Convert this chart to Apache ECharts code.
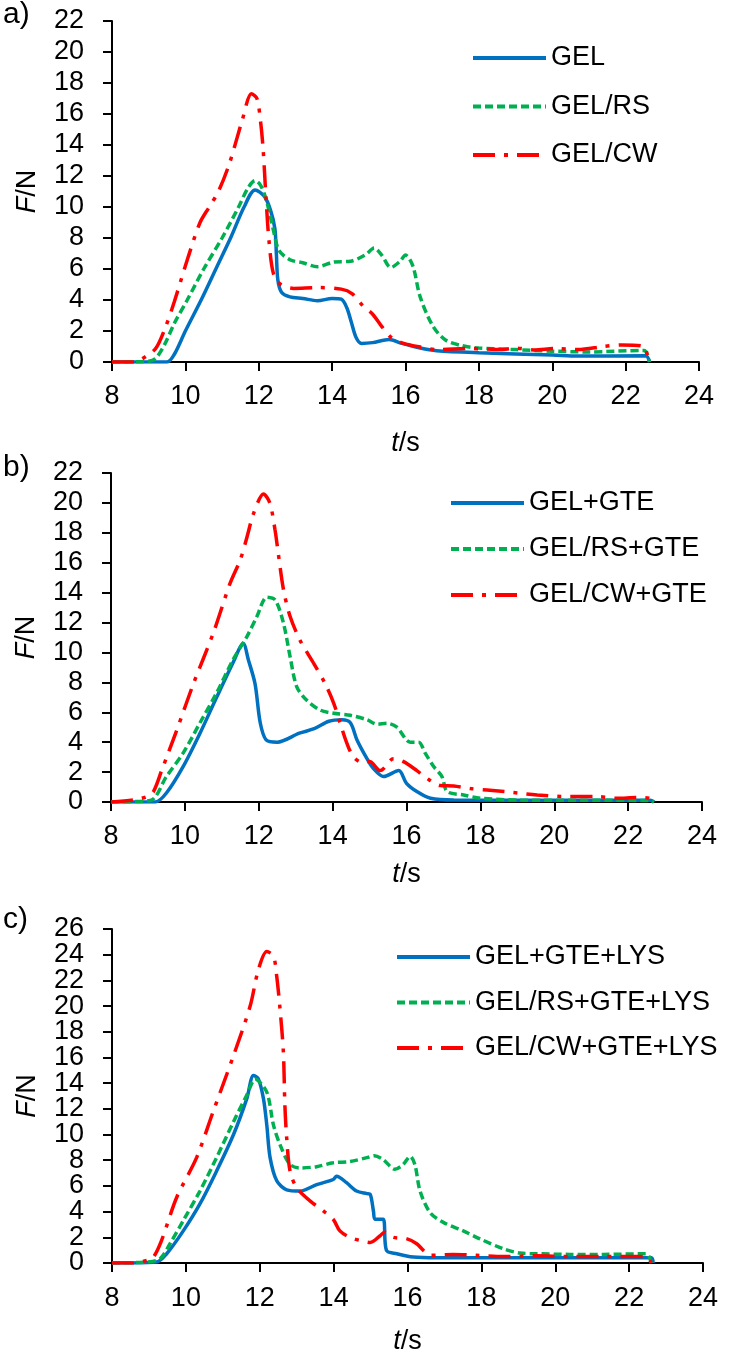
<!DOCTYPE html>
<html>
<head>
<meta charset="utf-8">
<script src="https://cdn.jsdelivr.net/npm/echarts@6/dist/echarts.min.js"></script>
<style>
html,body{margin:0;padding:0;background:#fff;}
#c{width:754px;height:1356px;}
</style>
</head>
<body>
<div id="c"></div>
<script>
// ---------- tick settings ----------
const xTicks = {min: 8, max: 24, interval: 2};
const yMaxA = 22, yMaxB = 22, yMaxC = 26;

// ---------- series names ----------
const namesA = ['GEL', 'GEL/RS', 'GEL/CW'];
const namesB = ['GEL+GTE', 'GEL/RS+GTE', 'GEL/CW+GTE'];
const namesC = ['GEL+GTE+LYS', 'GEL/RS+GTE+LYS', 'GEL/CW+GTE+LYS'];

// ---------- panel a: [t (s), F (N)] ----------
const gelA = [[8,0],[9.5,0],[9.7,0.5],[10.0,2.0],[10.45,4.1],[10.85,6.1],[11.25,8.1],[11.6,10.0],[11.9,11.1],[12.15,10.7],[12.32,9.8],[12.44,8.6],[12.48,7.0],[12.52,5.3],[12.62,4.5],[12.85,4.2],[13.2,4.1],[13.6,3.95],[14.0,4.1],[14.25,4.05],[14.4,3.5],[14.52,2.6],[14.65,1.6],[14.8,1.2],[15.1,1.25],[15.55,1.45],[15.9,1.2],[16.4,0.9],[16.85,0.73],[18.0,0.6],[20.0,0.45],[20.7,0.38],[22.55,0.4],[22.65,0]];
const rsA = [[8,0],[9.0,0.05],[9.2,0.25],[9.45,1.2],[9.7,2.5],[10.05,4.0],[10.5,6.0],[11.0,8.0],[11.45,10.0],[11.7,11.2],[11.9,11.7],[12.05,11.4],[12.2,10.5],[12.4,8.5],[12.55,7.2],[12.85,6.6],[13.2,6.4],[13.6,6.15],[14.05,6.45],[14.5,6.5],[14.9,6.9],[15.15,7.35],[15.35,6.9],[15.6,6.1],[15.85,6.5],[16.0,6.9],[16.2,6.2],[16.4,4.2],[16.75,2.3],[17.1,1.4],[17.55,1.05],[18.0,0.9],[19.0,0.8],[20.0,0.7],[21.0,0.65],[22.5,0.75],[22.65,0]];
const cwA = [[8,0],[8.6,0],[8.95,0.4],[9.2,0.9],[9.45,2.2],[9.7,3.9],[10.08,6.8],[10.4,9.0],[10.65,10.0],[10.9,11.0],[11.2,12.8],[11.55,15.6],[11.8,17.3],[11.95,17.0],[12.05,15.5],[12.12,13.7],[12.2,10.5],[12.28,7.8],[12.4,5.7],[12.6,5.0],[12.95,4.75],[13.6,4.8],[14.25,4.7],[14.55,4.4],[14.85,3.6],[15.1,3.1],[15.35,2.3],[15.6,1.6],[15.95,1.2],[16.4,0.97],[16.85,0.8],[17.75,0.87],[18.65,0.8],[19.0,0.9],[19.5,0.78],[20.1,0.87],[20.7,0.8],[21.4,1.0],[21.9,1.1],[22.5,1.0],[22.6,0]];

// ---------- panel b ----------
const gelB = [[8,0],[9.2,0],[9.5,0.6],[9.96,2.4],[10.41,4.6],[10.86,7.0],[11.3,9.3],[11.58,10.6],[11.72,9.5],[11.9,7.9],[12.04,5.3],[12.2,4.15],[12.5,4.0],[13.1,4.6],[13.5,4.9],[13.9,5.4],[14.25,5.5],[14.48,5.3],[14.66,4.15],[14.93,2.9],[15.1,2.25],[15.38,1.7],[15.79,2.1],[16.0,1.25],[16.28,0.7],[16.65,0.25],[17.28,0.13],[20.0,0.12],[22.6,0.12],[22.7,0]];
const rsB = [[8,0],[9.06,0.1],[9.5,1.7],[9.96,3.3],[10.41,5.3],[10.86,7.3],[11.3,9.5],[11.68,11.06],[11.95,12.4],[12.22,13.7],[12.45,13.5],[12.67,11.95],[12.85,9.7],[13.03,7.7],[13.3,6.8],[13.66,6.15],[14.03,5.93],[14.48,5.8],[14.93,5.5],[15.2,5.2],[15.47,5.26],[15.74,5.0],[16.1,4.0],[16.33,4.0],[16.51,3.25],[16.74,2.36],[16.96,1.7],[17.1,0.7],[17.55,0.47],[18.0,0.25],[19.1,0.13],[22.6,0.1],[22.7,0]];
const cwB = [[8,0],[8.6,0.13],[8.97,0.36],[9.15,0.7],[9.37,2.1],[9.78,4.8],[10.23,7.9],[10.77,11.3],[11.22,14.6],[11.5,16.2],[11.68,17.7],[11.86,19.3],[12.13,20.6],[12.3,20.0],[12.44,18.2],[12.53,16.6],[12.67,14.2],[12.85,12.4],[13.12,10.8],[13.48,9.3],[13.8,7.9],[14.03,6.6],[14.2,5.3],[14.39,3.9],[14.57,3.0],[14.84,2.6],[15.0,2.7],[15.29,2.1],[15.65,2.9],[15.92,2.7],[16.28,2.1],[16.6,1.5],[16.92,1.1],[17.28,1.07],[17.73,0.9],[18.18,0.8],[18.64,0.7],[19.54,0.47],[20.44,0.36],[21.16,0.36],[21.7,0.25],[22.24,0.3],[22.56,0.25],[22.65,0]];

// ---------- panel c ----------
const gelC = [[8,0],[9.21,0.08],[9.48,0.72],[9.93,2.5],[10.38,4.6],[10.83,7.15],[11.29,10.0],[11.65,12.8],[11.83,14.6],[11.96,14.35],[12.1,12.8],[12.19,10.75],[12.28,8.2],[12.46,6.4],[12.73,5.7],[13.09,5.6],[13.54,6.1],[13.99,6.5],[14.08,6.76],[14.35,6.25],[14.62,5.6],[14.9,5.4],[14.99,5.35],[15.08,4.0],[15.12,3.4],[15.34,3.4],[15.43,0.98],[15.71,0.72],[16.16,0.46],[16.79,0.4],[22.6,0.4],[22.65,0]];
const rsC = [[8,0],[8.94,0.08],[9.3,0.33],[9.57,1.5],[9.93,3.3],[10.38,5.6],[10.83,8.2],[11.29,11.0],[11.65,13.07],[11.88,14.3],[12.19,13.3],[12.37,10.75],[12.55,9.2],[12.82,7.66],[13.09,7.4],[13.54,7.5],[13.99,7.8],[14.44,7.9],[14.9,8.2],[15.1,8.35],[15.34,8.05],[15.66,7.3],[15.88,7.66],[16.07,8.3],[16.2,7.66],[16.34,5.6],[16.61,3.93],[16.97,3.16],[17.51,2.5],[17.96,1.88],[18.6,1.1],[19.05,0.77],[19.5,0.72],[20.4,0.67],[21.3,0.67],[22.47,0.72],[22.6,0]];
const cwC = [[8,0],[8.58,0],[8.94,0.2],[9.12,0.46],[9.34,1.75],[9.75,5.1],[10.29,8.2],[10.74,11.8],[11.29,16.15],[11.74,20.0],[11.96,22.8],[12.19,24.25],[12.37,23.9],[12.46,22.3],[12.55,19.75],[12.64,16.4],[12.68,12.3],[12.73,9.7],[12.82,7.15],[13.0,5.86],[13.36,4.84],[13.72,4.06],[13.99,3.4],[14.17,2.5],[14.44,2.0],[14.72,1.75],[14.99,1.6],[15.25,2.1],[15.38,2.4],[15.61,2.0],[15.97,1.9],[16.25,1.5],[16.43,0.98],[16.61,0.6],[17.24,0.67],[17.87,0.6],[18.6,0.5],[19.5,0.56],[20.4,0.5],[21.3,0.5],[22.47,0.5],[22.6,0]];

// ---------- styling ----------
const FONT = "'Liberation Sans', Arial, sans-serif";
const FS = 27;
const colors = ['#0070C0', '#00B050', '#FF0000'];
const dashes = ['solid', [8, 4], [22, 9, 4, 9]];

const grids = [
  {left: 112, top: 21, width: 587, height: 341},
  {left: 111, top: 473, width: 591, height: 329},
  {left: 112, top: 929, width: 591, height: 337}
];
const xNameGaps = [68, 59, 65];
const labelMargins = [21, 21, 22];
const yMaxes = [yMaxA, yMaxB, yMaxC];

function mkX(i) {
  return {
    type: 'value', gridIndex: i, min: xTicks.min, max: xTicks.max, interval: xTicks.interval,
    name: '{i|t}/s', nameLocation: 'middle', nameGap: xNameGaps[i],
    nameTextStyle: {fontFamily: FONT, fontSize: FS, color: '#000', rich: {i: {fontStyle: 'italic', fontFamily: FONT, fontSize: FS, color: '#000'}}},
    axisLine: {lineStyle: {color: '#000', width: 2}},
    axisTick: {show: true, inside: false, length: 9, lineStyle: {color: '#000', width: 2}},
    axisLabel: {fontFamily: FONT, fontSize: FS, color: '#000', margin: labelMargins[i], showMinLabel: true, showMaxLabel: true, hideOverlap: false},
    splitLine: {show: false}
  };
}
// labelFilter: null = all labels; 0 / 2 = only labels whose value % 4 equals that
function mkY(i, labelFilter, primary) {
  const ax = {
    type: 'value', gridIndex: i, position: 'left', offset: 0,
    min: 0, max: yMaxes[i], interval: 2,
    axisLine: {show: primary, onZero: false, lineStyle: {color: '#000', width: 2}},
    axisTick: {show: primary, inside: false, length: 9, lineStyle: {color: '#000', width: 2}},
    axisLabel: {fontFamily: FONT, fontSize: FS, lineHeight: 20, color: '#000', margin: 28, showMinLabel: true, showMaxLabel: true, hideOverlap: false},
    splitLine: {show: false}
  };
  if (primary) {
    ax.name = '{i|F}/N';
    ax.nameLocation = 'middle';
    ax.nameGap = 71;
    ax.nameRotate = 90;
    ax.nameTextStyle = {fontFamily: FONT, fontSize: FS, color: '#000', rich: {i: {fontStyle: 'italic', fontFamily: FONT, fontSize: FS, color: '#000'}}};
  }
  if (labelFilter !== null) {
    ax.axisLabel.formatter = v => (Math.round(v) % 4 === labelFilter ? String(v) : '');
  }
  return ax;
}

const yAxes = [mkY(0, null, true), mkY(1, null, true), mkY(2, 0, true), mkY(2, 2, false)];

function mkSeries(name, data, k, i) {
  return {
    type: 'line', name: name, data: data, xAxisIndex: i, yAxisIndex: i,
    symbol: 'none', smooth: 0.3,
    lineStyle: {color: colors[k], width: 3.5, type: dashes[k]},
    itemStyle: {color: colors[k]}
  };
}

const panels = [
  [namesA, [gelA, rsA, cwA]],
  [namesB, [gelB, rsB, cwB]],
  [namesC, [gelC, rsC, cwC]]
];
const series = [];
panels.forEach((p, i) => p[1].forEach((d, k) => series.push(mkSeries(p[0][k], d, k, i))));

const legendPos = [
  {left: 471, top: 43, itemGap: 18.5},
  {left: 449, top: 488, itemGap: 16},
  {left: 395, top: 942, itemGap: 15.5}
];
const legends = panels.map((p, i) => ({
  data: p[0], orient: 'vertical', left: legendPos[i].left, top: legendPos[i].top,
  itemGap: legendPos[i].itemGap, itemWidth: 73, itemHeight: 14, padding: 0,
  selectedMode: false,
  itemStyle: {opacity: 0, borderWidth: 0},
  lineStyle: {width: 4},
  textStyle: {fontFamily: FONT, fontSize: FS, color: '#000', lineHeight: 30, padding: [0, 0, 0, 0]}
}));

const panelLabels = ['a)', 'b)', 'c)'];
const panelLabelTops = [0, 453, 905];

const chart = echarts.init(document.getElementById('c'), null, {renderer: 'canvas'});
chart.setOption({
  backgroundColor: '#fff',
  animation: false,
  grid: grids,
  xAxis: [0, 1, 2].map(mkX),
  yAxis: yAxes,
  legend: legends,
  series: series,
  graphic: panelLabels.map((t, i) => ({
    type: 'text', left: 3, top: panelLabelTops[i],
    style: {text: t, fontFamily: FONT, fontSize: 30, fill: '#000'}
  }))
});
</script>
</body>
</html>
